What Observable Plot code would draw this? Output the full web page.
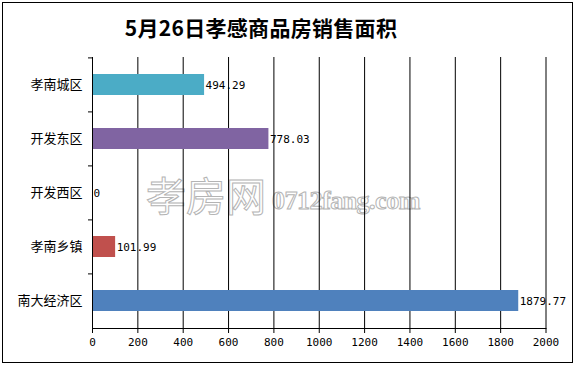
<!DOCTYPE html>
<html><head><meta charset="utf-8">
<script src="https://cdn.jsdelivr.net/npm/d3@7"></script>
<script src="https://cdn.jsdelivr.net/npm/@observablehq/plot@0.6"></script>
<style>
body{margin:0;background:#fff}
#wrap{position:relative;width:576px;height:366px;overflow:hidden;background:#fff}
#border{position:absolute;left:2px;top:2px;width:571px;height:361px;border:1px solid #000;box-sizing:border-box}
#title{position:absolute;left:0;top:12px;width:522px;text-align:center;font:bold 21px/30px "Noto Sans CJK SC";color:#000;letter-spacing:0.3px}
.wm{position:absolute;color:#fff;-webkit-text-stroke:1px #b4b4b4;white-space:nowrap}
#wm1{left:146px;top:172px;font:40px/44px "Noto Sans CJK SC"}
#wm2{left:272px;top:187px;font:bold 26px/28px "Liberation Serif";letter-spacing:-0.5px}
#chart{position:absolute;left:0;top:0}
</style></head>
<body>
<div id="wrap">
  <div class="wm" id="wm1">孝房网</div>
  <div class="wm" id="wm2">0712fang.com</div>
  <div id="chart"></div>
  <div id="border"></div>
  <div id="title">5月26日孝感商品房销售面积</div>
</div>
<script>
const categories = ["孝南城区", "开发东区", "开发西区", "孝南乡镇", "南大经济区"];
const values = [494.29, 778.03, 0, 101.99, 1879.77];
const colors = ["#4bacc6", "#8064a2", "#9bbb59", "#c0504d", "#4f81bd"];
const xTicks = [0, 200, 400, 600, 800, 1000, 1200, 1400, 1600, 1800, 2000];

const data = categories.map((c, i) => ({category: c, value: values[i], color: colors[i]}));

const W = 576, H = 366, mT = 57, mB = 38, mL = 92, mR = 30.5;
const step = (H - mT - mB) / categories.length;
const mono = "DejaVu Sans Mono";
const cjk = "Noto Sans CJK SC";

const chart = Plot.plot({
  width: W, height: H,
  marginTop: mT, marginBottom: mB, marginLeft: mL, marginRight: mR,
  style: {background: "transparent", color: "#000"},
  x: {domain: [0, 2000]},
  y: {domain: categories, paddingInner: 0.61, paddingOuter: 0.305},
  color: {type: "identity"},
  marks: [
    Plot.ruleX(xTicks.filter(d => d > 0), {stroke: "#000"}),
    Plot.barX(data, {x: "value", y: "category", fill: "color"}),
    Plot.ruleX([0], {stroke: "#000"}),
    Plot.frame({anchor: "bottom", stroke: "#000"}),
    Plot.axisX({ticks: xTicks, tickSize: 5, tickPadding: 5, tickFormat: d3.format("d"), label: null, fontFamily: mono, fontSize: 11, stroke: "#000"}),
    Plot.axisY({tickSize: 4, tickFormat: () => "", dy: -step / 2, label: null, stroke: "#000"}),
    Plot.axisY({tickSize: 0, tickPadding: 10, label: null, fontFamily: cjk, fontSize: 13}),
    Plot.text(data, {x: "value", y: "category", text: d => String(d.value), textAnchor: "start", dx: 1, fontFamily: mono, fontSize: 11, fill: "#000"})
  ]
});
document.getElementById("chart").appendChild(chart);
</script>
</body></html>
